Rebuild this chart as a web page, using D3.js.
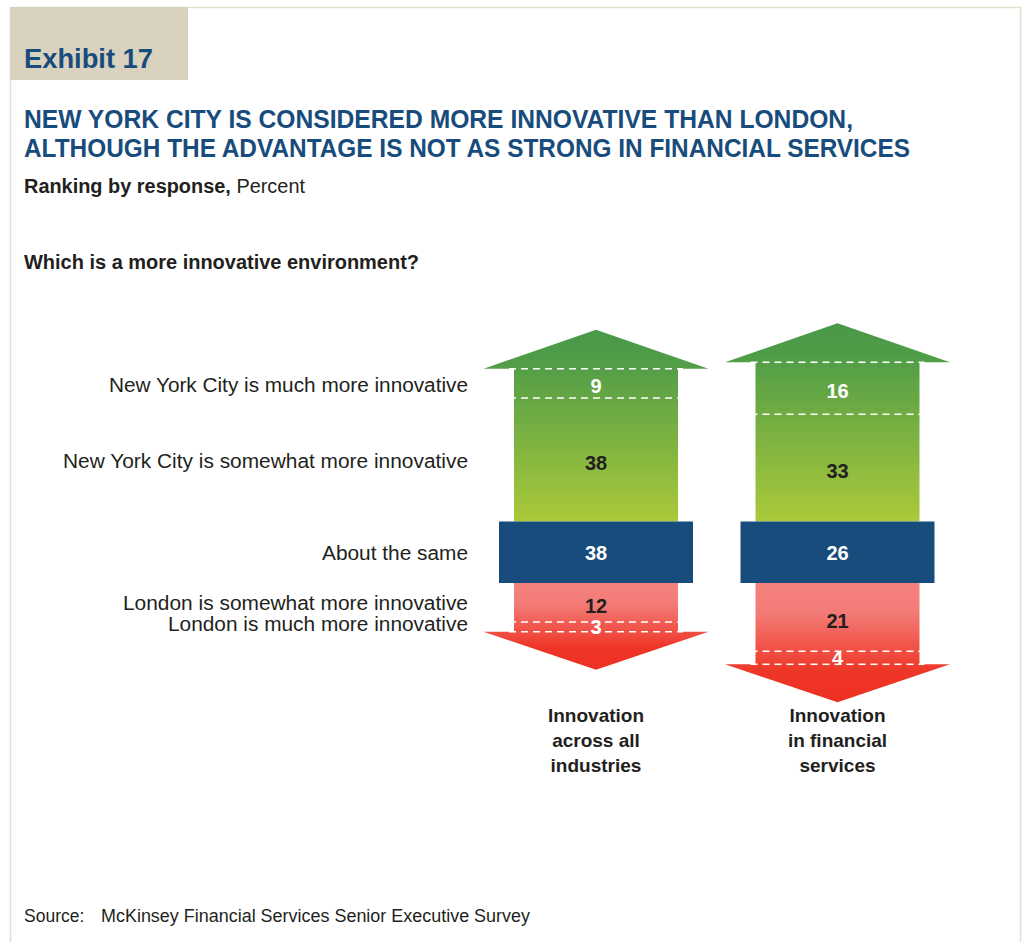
<!DOCTYPE html>
<html><head><meta charset="utf-8">
<script src="https://cdn.jsdelivr.net/npm/d3@7/dist/d3.min.js"></script>
<style>
html,body{margin:0;padding:0;background:#fff;}
svg{display:block;font-family:"Liberation Sans",Arial,sans-serif;}
</style></head>
<body>
<svg id="c" width="1023" height="942"></svg>
<script>
// ---- data ----
const columns = ["Innovation across all industries", "Innovation in financial services"];
const columnLabelLines = [["Innovation", "across all", "industries"], ["Innovation", "in financial", "services"]];
const categories = [
  "New York City is much more innovative",
  "New York City is somewhat more innovative",
  "About the same",
  "London is somewhat more innovative",
  "London is much more innovative"
];
const nycMuch = [9, 16];
const nycSomewhat = [38, 33];
const aboutSame = [38, 26];
const londonSomewhat = [12, 21];
const londonMuch = [3, 4];

const svg = d3.select("#c");
const blue = "#174c7c", dark = "#231f20";

// frame
svg.append("rect").attr("x", 10.5).attr("y", 7.5).attr("width", 1010).attr("height", 960)
  .attr("fill", "none").attr("stroke", "#e3dfcf").attr("stroke-width", 1.5);
svg.append("rect").attr("x", 10).attr("y", 7).attr("width", 178).attr("height", 73).attr("fill", "#d8d2bf");
svg.append("text").attr("x", 24).attr("y", 68).attr("font-size", 28).attr("font-weight", "bold")
  .attr("fill", blue).attr("textLength", 129).attr("lengthAdjust", "spacingAndGlyphs").text("Exhibit 17");

svg.append("text").attr("x", 24).attr("y", 128).attr("font-size", 25).attr("font-weight", "bold")
  .attr("fill", blue).attr("textLength", 829).attr("lengthAdjust", "spacingAndGlyphs")
  .text("NEW YORK CITY IS CONSIDERED MORE INNOVATIVE THAN LONDON,");
svg.append("text").attr("x", 24).attr("y", 157).attr("font-size", 25).attr("font-weight", "bold")
  .attr("fill", blue).attr("textLength", 886).attr("lengthAdjust", "spacingAndGlyphs")
  .text("ALTHOUGH THE ADVANTAGE IS NOT AS STRONG IN FINANCIAL SERVICES");

const sub = svg.append("text").attr("x", 24).attr("y", 193).attr("font-size", 19.5).attr("fill", dark)
  .attr("textLength", 281).attr("lengthAdjust", "spacingAndGlyphs");
sub.append("tspan").attr("font-weight", "bold").text("Ranking by response,");
sub.append("tspan").text(" Percent");

svg.append("text").attr("x", 24).attr("y", 269).attr("font-size", 19.5).attr("font-weight", "bold")
  .attr("fill", dark).attr("textLength", 395).attr("lengthAdjust", "spacingAndGlyphs")
  .text("Which is a more innovative environment?");

// ---- scales ----
const x = d3.scalePoint().domain(columns).range([596, 837.5]);
const h = d3.scaleLinear().domain([0, 100]).range([0, 325]);
const blueTop = 521.5, blueBot = 583;
const shaftHalf = 82, headHalf = 112.5, headH = 39, boxHalf = 97;

const defs = svg.append("defs");
const gG = defs.append("linearGradient").attr("id", "gGreen").attr("x1", 0).attr("y1", 0).attr("x2", 0).attr("y2", 1);
gG.append("stop").attr("offset", 0).attr("stop-color", "#4a9948");
gG.append("stop").attr("offset", 0.15).attr("stop-color", "#4f9c48");
gG.append("stop").attr("offset", 1).attr("stop-color", "#abc93a");
const gR = defs.append("linearGradient").attr("id", "gRed").attr("x1", 0).attr("y1", 0).attr("x2", 0).attr("y2", 1);
gR.append("stop").attr("offset", 0).attr("stop-color", "#f4817e");
gR.append("stop").attr("offset", 0.25).attr("stop-color", "#f37b76");
gR.append("stop").attr("offset", 0.75).attr("stop-color", "#ee3526");
gR.append("stop").attr("offset", 1).attr("stop-color", "#ee3124");

const rows = columns.map((c, i) => {
  const cx = x(c);
  const y1 = blueTop - h(nycSomewhat[i]);
  const y2 = y1 - h(nycMuch[i]);
  const r1 = blueBot + h(londonSomewhat[i]);
  const r2 = r1 + h(londonMuch[i]);
  return {c, i, cx, y1, y2, r1, r2};
});

const g = svg.append("g");
rows.forEach(d => {
  const {cx, y2, r2} = d;
  g.append("path").attr("fill", "url(#gGreen)").attr("d", d3.line()([
    [cx - shaftHalf, blueTop], [cx - shaftHalf, y2], [cx - headHalf, y2], [cx, y2 - headH],
    [cx + headHalf, y2], [cx + shaftHalf, y2], [cx + shaftHalf, blueTop]]) + "Z");
  g.append("path").attr("fill", "url(#gRed)").attr("d", d3.line()([
    [cx - shaftHalf, blueBot], [cx - shaftHalf, r2], [cx - headHalf, r2], [cx, r2 + headH - 1],
    [cx + headHalf, r2], [cx + shaftHalf, r2], [cx + shaftHalf, blueBot]]) + "Z");
  g.append("rect").attr("x", cx - boxHalf).attr("y", blueTop).attr("width", 2 * boxHalf)
    .attr("height", blueBot - blueTop).attr("fill", blue);
  [d.y2, d.y1, d.r1, d.r2].forEach(yy => {
    g.append("line").attr("x1", cx - shaftHalf - 5).attr("x2", cx + shaftHalf + 5)
      .attr("y1", yy).attr("y2", yy).attr("stroke", "#fff").attr("stroke-width", 1.6)
      .attr("stroke-dasharray", "7,5");
  });
});

rows.forEach(d => {
  const i = d.i;
  const vals = [
    {v: nycMuch[i], y: (d.y2 + d.y1) / 2 + 3, c: "#fff"},
    {v: nycSomewhat[i], y: (d.y1 + blueTop) / 2 + 3.5, c: dark},
    {v: aboutSame[i], y: (blueTop + blueBot) / 2 + 1, c: "#fff"},
    {v: londonSomewhat[i], y: (blueBot + d.r1) / 2 + 3.5, c: dark},
    {v: londonMuch[i], y: (d.r1 + d.r2) / 2, c: "#fff"}
  ];
  vals.forEach(o => {
    svg.append("text").attr("x", d.cx).attr("y", o.y).attr("dy", "0.35em")
      .attr("text-anchor", "middle").attr("font-size", 20).attr("font-weight", "bold")
      .attr("fill", o.c).text(o.v);
  });
  columnLabelLines[i].forEach((t, k) => {
    svg.append("text").attr("x", d.cx).attr("y", 721.7 + k * 25).attr("text-anchor", "middle")
      .attr("font-size", 19).attr("font-weight", "bold").attr("fill", dark).text(t);
  });
});

// category labels
const labelBaselines = [391.7, 468, 559.5, 609.5, 631];
const labelWidths = [359, 405, 146, 345, 300];
categories.forEach((t, k) => {
  svg.append("text").attr("x", 468 - labelWidths[k]).attr("y", labelBaselines[k])
    .attr("font-size", 19.5).attr("fill", dark)
    .attr("textLength", labelWidths[k]).attr("lengthAdjust", "spacingAndGlyphs").text(t);
});

// source
svg.append("text").attr("x", 24).attr("y", 922).attr("font-size", 17.5).attr("fill", dark).text("Source:");
svg.append("text").attr("x", 101).attr("y", 922).attr("font-size", 17.5).attr("fill", dark)
  .attr("textLength", 429).attr("lengthAdjust", "spacingAndGlyphs")
  .text("McKinsey Financial Services Senior Executive Survey");
</script>
</body></html>
